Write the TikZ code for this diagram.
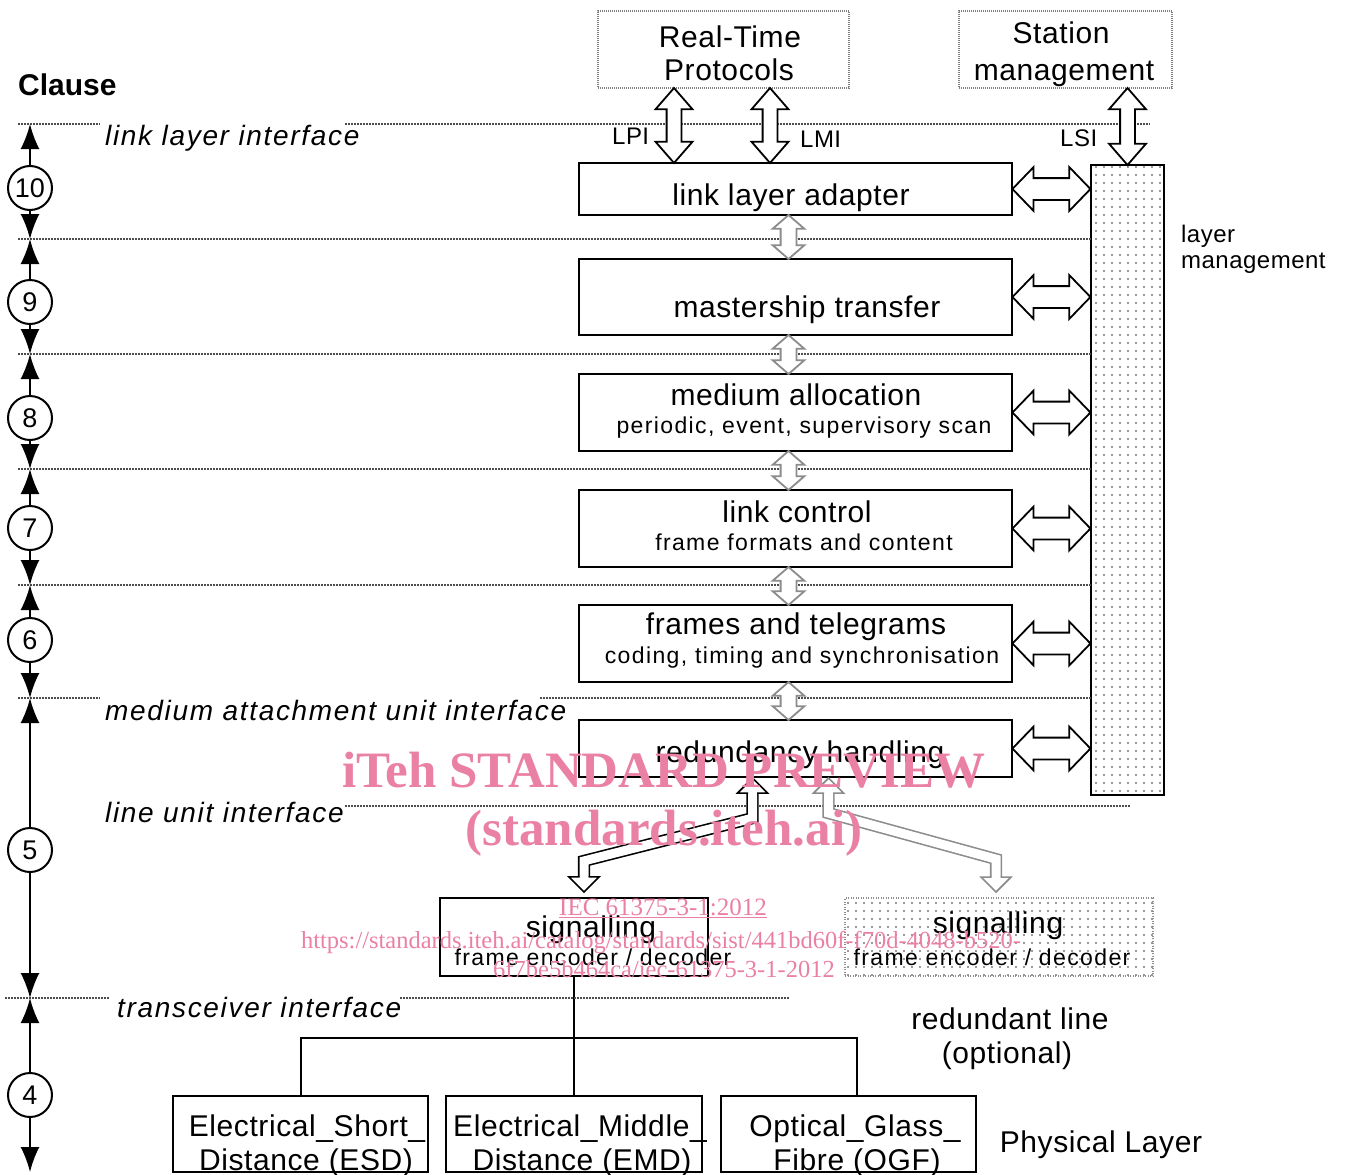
\documentclass[tikz,border=0pt]{standalone}
\usepackage{fontspec}
\setmainfont{Liberation Sans}
\newfontfamily\trackA[LetterSpace=2]{Liberation Sans}
\newfontfamily\trackB[LetterSpace=6]{Liberation Sans}
\newfontfamily\wmfont{Liberation Serif}
\usetikzlibrary{arrows.meta,shapes.arrows,patterns.meta,calc}
\definecolor{wmpink}{RGB}{234,128,164}

\begin{document}
\begin{tikzpicture}[x=1pt, y=-1pt, line join=miter,
    box/.style={draw, line width=2.2pt, fill=white, inner sep=0pt},
    topbox/.style={draw=black!50, line width=2.5pt, dash pattern=on 1pt off 1pt, inner sep=0pt},
    dotbox/.style={pattern={Dots[distance=8pt, radius=0.8pt]}, pattern color=black!80},
    ttl/.style={font=\trackA\fontsize{30}{33}\selectfont, anchor=base, inner sep=0pt},
    sub/.style={font=\trackB\fontsize{23}{26}\selectfont, anchor=base, inner sep=0pt},
    lbl/.style={font=\trackA\fontsize{24}{27}\selectfont, anchor=base west, inner sep=0pt},
    ifc/.style={font=\trackB\itshape\fontsize{28}{30}\selectfont, anchor=base west, inner sep=0pt},
    iface/.style={line width=1.2pt, black!70, dash pattern=on 1.5pt off 1.5pt},
    clnum/.style={circle, draw, line width=2pt, fill=white, minimum size=44pt, inner sep=0pt, font=\fontsize{27}{30}\selectfont},
    clarr/.style={line width=2pt, -{Latex[length=25pt, width=19pt]}},
    vdbl/.style={shape=double arrow, draw, line width=1.8pt, fill=white, inner sep=6.5pt, shape border rotate=90,
        minimum width=35pt, double arrow head extend=11pt, double arrow tip angle=82},
    hdbl/.style={shape=double arrow, draw, line width=1.8pt, fill=white, inner sep=10pt,
        minimum width=42pt, minimum height=78pt, double arrow head extend=11pt, double arrow tip angle=92},
    gdbl/.style={shape=double arrow, draw=black!45, line width=1.8pt, fill=white, inner sep=7pt, shape border rotate=90,
        minimum width=30pt, double arrow head extend=8pt, double arrow tip angle=98},
    shaft/.style={line width=1.6pt, double=white, double distance=9pt},
    hd/.pic={\fill[white] (-15,15) -- (0,0) -- (15,15) -- cycle;
             \draw[line width=1.6pt] (-4.5,15) -- (-15,15) -- (0,0) -- (15,15) -- (4.5,15);},
    wm/.style={text=wmpink, anchor=base, inner sep=0pt}]

    \useasboundingbox (0,0) rectangle (1349,1175);

    \node[topbox, minimum width=251pt, minimum height=77pt] (rtp)  at (723.5,49.5) {};
    \node[topbox, minimum width=213pt, minimum height=77pt] (stm)  at (1065.5,49.5) {};

    \node[box, minimum width=433pt, minimum height=52pt] (lla) at (795.5,189) {};
    \node[box, minimum width=433pt, minimum height=76pt] (mt)  at (795.5,297) {};
    \node[box, minimum width=433pt, minimum height=77pt] (ma)  at (795.5,412.5) {};
    \node[box, minimum width=433pt, minimum height=77pt] (lc)  at (795.5,528.5) {};
    \node[box, minimum width=433pt, minimum height=77pt] (ft)  at (795.5,643.5) {};
    \node[box, minimum width=433pt, minimum height=57pt] (rh)  at (795.5,748.5) {};
    \node[draw, line width=2.5pt, dotbox, inner sep=0pt, minimum width=73pt, minimum height=630pt] (lm) at (1127.5,480) {};

    \node[box, minimum width=268pt, minimum height=78pt] (sig) at (574,937) {};
    \node[draw=black!45, line width=1.8pt, dash pattern=on 1pt off 1.5pt, dotbox, inner sep=0pt,
          minimum width=308pt, minimum height=78pt] (sigr) at (999,937) {};

    \node[box, minimum width=255pt, minimum height=76pt] (esd) at (300.5,1134) {};
    \node[box, minimum width=256pt, minimum height=76pt] (emd) at (574,1134) {};
    \node[box, minimum width=255pt, minimum height=76pt] (ogf) at (848.5,1134) {};

    \coordinate (jn) at ($(sig.south)+(0,61)$);
    \draw[line width=2pt] (sig.south) -- (emd.north);
    \draw[line width=2pt] (esd.north) |- (jn) -| ($(ogf.north)+(8.5,0)$);

    \foreach \y [count=\i from 0] in {124,239,354,469,585,698,998,1172}
        \coordinate (lv\i) at (30,\y);

    \draw[iface] (18,124) -- (100,124)  (345,124) -- (1150,124);
    \foreach \y in {239,354,469,585}
        \draw[iface] (18,\y) -- (1091,\y);
    \draw[iface] (18,698) -- (100,698)  (540,698) -- (1091,698);
    \draw[iface] (345,806) -- (1130,806);
    \draw[iface] (5,998)  -- (110,998)  (400,998) -- (790,998);

    \foreach \n/\y/\i/\j in {10/188/0/1, 9/302/1/2, 8/418/2/3, 7/528/3/4, 6/640/4/5, 5/850/5/6, 4/1095/6/7} {
        \node[clnum] (cl\n) at (30,\y) {\n};
        \draw[clarr] (cl\n) -- (lv\i);
        \draw[clarr] (cl\n) -- (lv\j);
    }

    \node[vdbl, minimum height=75pt] (lpi) at (674,125.5) {};
    \node[vdbl, minimum height=75pt] (lmi) at (770,125.5) {};
    \node[vdbl, minimum height=77pt] (lsi) at ($(lm.north)!0.5!(lm.north |- stm.south)$) {};

    \foreach \b in {lla,mt,ma,lc,ft,rh}
        \node[hdbl] (h\b) at ($(\b.east)!0.5!(lm.west |- \b.east)$) {};

    \foreach \a/\b/\h in {lla/mt/44, mt/ma/39, ma/lc/39, lc/ft/38, ft/rh/38}
        \node[gdbl, minimum height=\h pt] (v\a) at ($(\a.south)!0.5!(\b.north)+(-7,0)$) {};

    \coordinate (bt) at ($(rh.south)+(-43,0)$);
    \coordinate (bb) at ($(sig.north)+(10,-5)$);
    \draw[shaft] ($(bt)+(0,15)$) -- ($(bt)+(0,40)$) -- ($(bb)+(0,-31)$) -- ($(bb)+(0,-15)$);
    \pic at (bt) {hd};
    \pic[rotate=180] at (bb) {hd};

    \coordinate (gt) at ($(rh.south)+(33,0)$);
    \coordinate (gb) at ($(sigr.north)+(-3,-5)$);
    \draw[shaft, black!45] ($(gt)+(0,15)$) -- ($(gt)+(0,35)$) -- ($(gb)+(0,-33)$) -- ($(gb)+(0,-15)$);
    \pic[black!45] at (gt) {hd};
    \pic[black!45, rotate=180] at (gb) {hd};

    \node[font=\bfseries\fontsize{30}{32}\selectfont, anchor=base west, inner sep=0pt] (clause) at (18,95) {Clause};
    \node[ttl] (trtp1)  at (730,47)   {Real-Time};
    \node[ttl] (trtp2)  at (729,80)   {Protocols};
    \node[ttl] (tstm1)  at (1061,43)  {Station};
    \node[ttl] (tstm2)  at (1064,80)  {management};
    \node[lbl] (tlpi)   at (612,144)  {LPI};
    \node[lbl] (tlmi)   at (800,147)  {LMI};
    \node[lbl] (tlsi)   at (1060,146) {LSI};
    \node[ifc] (tlli)   at (105,145)  {link layer interface};
    \node[ifc] (tmau)   at (105,720)  {medium attachment unit interface};
    \node[ifc] (tlui)   at (105,822)  {line unit interface};
    \node[ifc] (ttri)   at (117,1017) {transceiver interface};
    \node[ttl] (tlla)   at (791,205)  {link layer adapter};
    \node[ttl] (tmt)    at (807,317)  {mastership transfer};
    \node[ttl] (tma1)   at (796,405)  {medium allocation};
    \node[sub] (tma2)   at (804,433)  {periodic, event, supervisory scan};
    \node[ttl] (tlc1)   at (797,522)  {link control};
    \node[sub] (tlc2)   at (804,550)  {frame formats and content};
    \node[ttl] (tft1)   at (796,634)  {frames and telegrams};
    \node[sub] (tft2)   at (802,663)  {coding, timing and synchronisation};
    \node[ttl] (trh)    at (800,762)  {redundancy handling};
    \node[lbl] (tlm1)   at (1181,242) {layer};
    \node[lbl] (tlm2)   at (1181,268) {management};
    \node[ttl] (tsig1)  at (591,937)  {signalling};
    \node[sub] (tsig2)  at (593,965)  {frame encoder / decoder};
    \node[ttl] (tsigr1) at (998,933)  {signalling};
    \node[sub] (tsigr2) at (992,965)  {frame encoder / decoder};
    \node[ttl] (tred1)  at (1010,1029) {redundant line};
    \node[ttl] (tred2)  at (1007,1063) {(optional)};
    \node[ttl] (tesd1)  at (307,1136) {Electrical\_Short\_};
    \node[ttl] (tesd2)  at (306,1170) {Distance (ESD)};
    \node[ttl] (temd1)  at (580,1136) {Electrical\_Middle\_};
    \node[ttl] (temd2)  at (582,1170) {Distance (EMD)};
    \node[ttl] (togf1)  at (855,1136) {Optical\_Glass\_};
    \node[ttl] (togf2)  at (857,1170) {Fibre (OGF)};
    \node[ttl] (tphy)   at (1101,1152) {Physical Layer};

    \node[wm, font=\wmfont\bfseries\fontsize{51}{55}\selectfont] (wm1) at (664,787) {iTeh STANDARD PREVIEW};
    \node[wm, font=\wmfont\bfseries\fontsize{51}{55}\selectfont] (wm2) at (664,845) {(standards.iteh.ai)};
    \node[wm, font=\wmfont\fontsize{25}{27}\selectfont] (wm3) at (663,915) {\underline{IEC 61375-3-1:2012}};
    \node[wm, font=\wmfont\fontsize{24.5}{26}\selectfont] (wm4) at (661,948) {https://standards.iteh.ai/catalog/standards/sist/441bd60f-f70d-4048-b520-};
    \node[wm, font=\wmfont\fontsize{24.5}{26}\selectfont] (wm5) at (664,977) {6f7be5b464ca/iec-61375-3-1-2012};
\end{tikzpicture}
\end{document}
